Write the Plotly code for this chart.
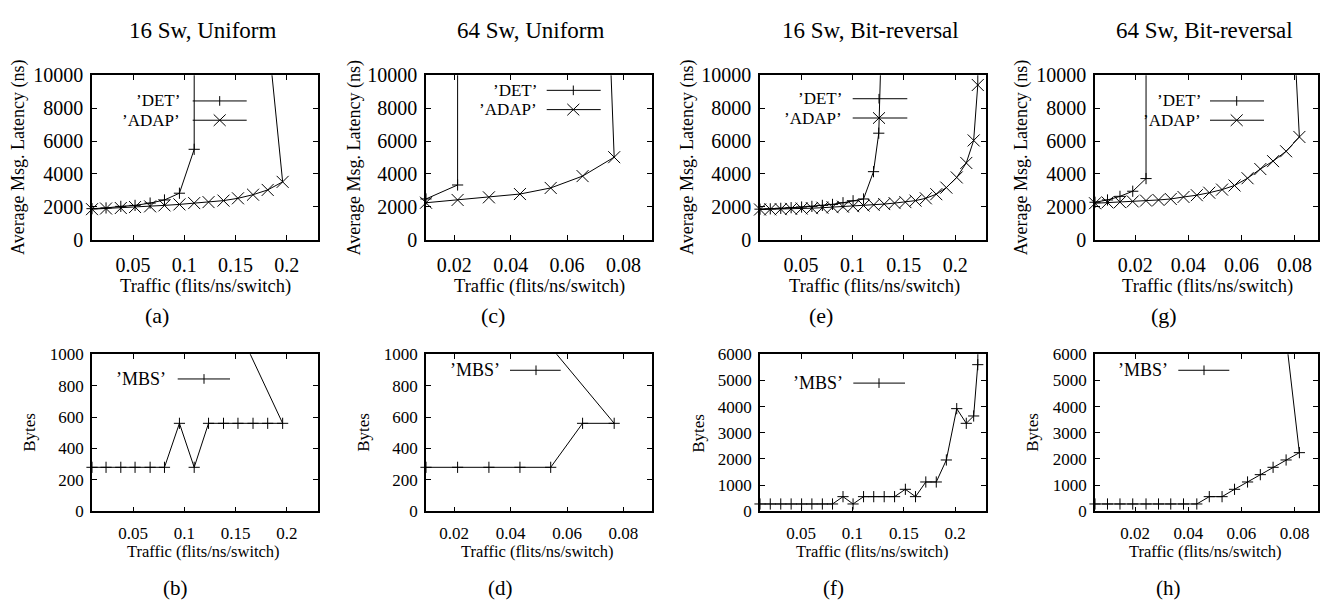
import plotly.graph_objects as go

# ---------------- data ----------------
# (a) 16 Sw, Uniform : latency
a_x = [0.0100, 0.0237, 0.0381, 0.0520, 0.0667, 0.0807, 0.0953, 0.1097, 0.1237, 0.1383, 0.1524, 0.1671, 0.1814, 0.1960]
a_adap = [1860, 1900, 1930, 1990, 2030, 2090, 2150, 2230, 2290, 2380, 2520, 2740, 3030, 3520]
a_det_x = [0.0100, 0.0237, 0.0381, 0.0520, 0.0667, 0.0807, 0.0953, 0.1097]
a_det = [1890, 1934, 2030, 2090, 2230, 2420, 2830, 5500]
a_adap_over = [0.150, 32200]
a_det_over = [0.1099, 80000]
# (b) 16 Sw, Uniform : MBS
b_mbs = [280, 280, 280, 280, 280, 280, 560, 280, 560, 560, 560, 560, 560, 560]
b_mbs_over = [0.150, 1200]

# (c) 64 Sw, Uniform : latency
c_x = [0.0100, 0.0212, 0.0323, 0.0433, 0.0542, 0.0655, 0.0767]
c_adap = [2250, 2420, 2580, 2780, 3150, 3870, 5020]
c_det_x = [0.0100, 0.0212]
c_det = [2480, 3330]
c_adap_over = [0.050, 125900]
c_det_over = [0.0213, 80000]
# (d) 64 Sw, Uniform : MBS
d_mbs = [280, 280, 280, 280, 280, 560, 560]
d_mbs_over = [0.050, 1136]

# (e) 16 Sw, Bit-reversal : latency
e_x = [0.0100, 0.0200, 0.0302, 0.0403, 0.0505, 0.0605, 0.0707, 0.0806, 0.0908, 0.1006, 0.1108, 0.1207,
       0.1309, 0.1410, 0.1515, 0.1614, 0.1714, 0.1816, 0.1914, 0.2015, 0.2108, 0.2180, 0.2220]
e_adap = [1840, 1850, 1860, 1880, 1900, 1920, 1950, 1980, 2010, 2040, 2080, 2120,
          2170, 2230, 2290, 2380, 2520, 2770, 3170, 3790, 4670, 6040, 9410]
e_det_x = [0.0100, 0.0200, 0.0302, 0.0403, 0.0505, 0.0605, 0.0707, 0.0806, 0.0908, 0.1006, 0.1108, 0.1205, 0.1256]
e_det = [1860, 1880, 1910, 1950, 1990, 2030, 2090, 2150, 2250, 2370, 2480, 4140, 6480]
e_adap_over = [0.2226, 30000]
e_det_over = [0.1350, 27200]
# (f) 16 Sw, Bit-reversal : MBS
f_mbs = [280, 280, 280, 280, 280, 280, 280, 280, 560, 280, 560, 560,
         560, 560, 840, 560, 1120, 1120, 1960, 3920, 3360, 3640, 5600]
f_mbs_over = [0.2226, 9000]

# (g) 64 Sw, Bit-reversal : latency
g_x = [0.0049, 0.0096, 0.0143, 0.0191, 0.0241, 0.0288, 0.0334, 0.0382, 0.0432, 0.0479, 0.0527, 0.0574,
       0.0623, 0.0671, 0.0719, 0.0768, 0.0818]
g_adap = [2220, 2270, 2290, 2330, 2380, 2420, 2480, 2600, 2710, 2860, 3050, 3300,
          3740, 4300, 4780, 5380, 6250]
g_det_x = [0.0049, 0.0096, 0.0143, 0.0191, 0.0241]
g_det = [2280, 2420, 2640, 2950, 3720]
g_adap_over = [0.070, 42900]
g_det_over = [0.0242, 60000]
# (h) 64 Sw, Bit-reversal : MBS
h_mbs = [280, 280, 280, 280, 280, 280, 280, 280, 280, 560, 560, 840, 1120, 1400, 1680, 1960, 2240]
h_mbs_over = [0.070, 12570]

titles = ["16 Sw, Uniform", "64 Sw, Uniform", "16 Sw, Bit-reversal", "64 Sw, Bit-reversal"]
letters_top = ["(a)", "(c)", "(e)", "(g)"]
letters_bot = ["(b)", "(d)", "(f)", "(h)"]
xtick_vals_16 = [0.05, 0.1, 0.15, 0.2]
xtick_text_16 = ["0.05", "0.1", "0.15", "0.2"]
xtick_vals_64 = [0.02, 0.04, 0.06, 0.08]
xtick_text_64 = ["0.02", "0.04", "0.06", "0.08"]
lat_ticks = [0, 2000, 4000, 6000, 8000, 10000]
mbs_ticks_small = [0, 200, 400, 600, 800, 1000]
mbs_ticks_big = [0, 1000, 2000, 3000, 4000, 5000, 6000]

# ---------------- layout helpers ----------------
W, H = 1321, 611
FONT = "Liberation Serif, Times New Roman, Times, serif"


def px(x):
    return x / W


def py(y):
    return 1 - y / H


cols = [(92, 317.5), (426, 651.7), (760, 986), (1095, 1318)]
top_y = (66.7, 237.3)
bot_y = (356, 519)
xranges = [[0.01, 0.23], [0.01, 0.09], [0.01, 0.23], [0.0049, 0.0888]]
xticks = [(xtick_vals_16, xtick_text_16), (xtick_vals_64, xtick_text_64),
          (xtick_vals_16, xtick_text_16), (xtick_vals_64, xtick_text_64)]
bot_yrange = [[0, 1000], [0, 1000], [0, 6000], [0, 6000]]
bot_yticks = [mbs_ticks_small, mbs_ticks_small, mbs_ticks_big, mbs_ticks_big]

fig = go.Figure()
layout = dict(width=W, height=H, margin=dict(l=0, r=0, t=0, b=0),
              paper_bgcolor="white", plot_bgcolor="white", showlegend=False,
              font=dict(family=FONT, color="black"))

shapes = []
annotations = []


def axis_common(fs):
    return dict(showline=True, linecolor="black", linewidth=1.6, mirror="ticks",
                ticks="inside", ticklen=5, tickwidth=1, tickcolor="black",
                showgrid=False, zeroline=False, tickfont=dict(family=FONT, size=fs, color="black"))


for i in range(4):
    x0, x1 = cols[i]
    for row in range(2):
        n = i * 2 + row + 1
        xa = "xaxis" if n == 1 else f"xaxis{n}"
        ya = "yaxis" if n == 1 else f"yaxis{n}"
        yd = top_y if row == 0 else bot_y
        fs = 20 if row == 0 else 17
        xd = axis_common(fs)
        xd.update(domain=[px(x0), px(x1)], range=xranges[i], anchor=f"y{'' if n == 1 else n}",
                  tickvals=xticks[i][0], ticktext=xticks[i][1],
                  ticklabelstandoff=6 if row == 0 else 5)
        ydd = axis_common(fs)
        if row == 0:
            ydd.update(range=[0, 10000], tickvals=lat_ticks, ticktext=[str(v) for v in lat_ticks])
        else:
            ydd.update(range=bot_yrange[i], tickvals=bot_yticks[i], ticktext=[str(v) for v in bot_yticks[i]])
        ydd.update(domain=[py(yd[1]), py(yd[0])], anchor=f"x{'' if n == 1 else n}", ticklabelstandoff=3)
        layout[xa] = xd
        layout[ya] = ydd


def add_series(xs, ys, over, symbol, size, n):
    xr = "x" if n == 1 else f"x{n}"
    yr = "y" if n == 1 else f"y{n}"
    fig.add_trace(go.Scatter(x=[xs[-1], over[0]], y=[ys[-1], over[1]], mode="lines",
                             line=dict(color="black", width=1), xaxis=xr, yaxis=yr, hoverinfo="skip"))
    fig.add_trace(go.Scatter(x=xs, y=ys, mode="lines+markers", cliponaxis=False,
                             line=dict(color="black", width=1),
                             marker=dict(symbol=symbol, size=size, color="black",
                                         line=dict(color="black", width=1)),
                             xaxis=xr, yaxis=yr))


PLUS, PSZ = "cross-thin", 8
CROSS, CSZ = "x-thin", 12

# top row: latency
add_series(a_x, a_adap, a_adap_over, CROSS, CSZ, 1)
add_series(a_det_x, a_det, a_det_over, PLUS, PSZ, 1)
add_series(c_x, c_adap, c_adap_over, CROSS, CSZ, 3)
add_series(c_det_x, c_det, c_det_over, PLUS, PSZ, 3)
add_series(e_x, e_adap, e_adap_over, CROSS, CSZ, 5)
add_series(e_det_x, e_det, e_det_over, PLUS, PSZ, 5)
add_series(g_x, g_adap, g_adap_over, CROSS, CSZ, 7)
add_series(g_det_x, g_det, g_det_over, PLUS, PSZ, 7)
# bottom row: MBS
add_series(a_x, b_mbs, b_mbs_over, PLUS, PSZ, 2)
add_series(c_x, d_mbs, d_mbs_over, PLUS, PSZ, 4)
add_series(e_x, f_mbs, f_mbs_over, PLUS, PSZ, 6)
add_series(g_x, h_mbs, h_mbs_over, PLUS, PSZ, 8)


def ann(text, x, y, size, xanchor="center", angle=0):
    annotations.append(dict(text=text, x=px(x), y=py(y), xref="paper", yref="paper",
                            xanchor=xanchor, yanchor="middle", showarrow=False, textangle=angle,
                            font=dict(family=FONT, size=size, color="black")))


def seg(x0, y0, x1, y1):
    shapes.append(dict(type="line", xref="paper", yref="paper", x0=px(x0), y0=py(y0), x1=px(x1), y1=py(y1),
                       line=dict(color="black", width=1)))


def legend_entry(text, right, y, lx0, lx1, mx, sym, size):
    ann(text, right, y, size, xanchor="right")
    seg(lx0, y, lx1, y)
    if sym == "plus":
        seg(mx, y - 5, mx, y + 5)
    else:
        seg(mx - 6, y - 6, mx + 6, y + 6)
        seg(mx - 6, y + 6, mx + 6, y - 6)


# titles / labels
title_cx = [202, 530.5, 870.8, 1204.5]
letter_top_cx = [157, 493, 821, 1163.5]
letter_bot_cx = [175, 500, 833.5, 1168]
ytitle_top_x = [18.5, 355, 687.5, 1021.7]
ytitle_bot_x = [30, 364, 699, 1033]
for i in range(4):
    x0, x1 = cols[i]
    cx = (x0 + x1) / 2
    ann(titles[i], title_cx[i], 20, 23)
    ann("Traffic (flits/ns/switch)", cx + 1, 286, 18.5)
    ann("Traffic (flits/ns/switch)", cx - 1, 561, 16.5)
    ann("Average Msg. Latency (ns)", ytitle_top_x[i], (top_y[0] + top_y[1]) / 2, 18, angle=-90)
    ann("Bytes", ytitle_bot_x[i], (bot_y[0] + bot_y[1]) / 2, 17, angle=-90)
    ann(letters_top[i], letter_top_cx[i], 316, 22)
    ann(letters_bot[i], letter_bot_cx[i], 599, 21)

# legends
leg_top = [(181.7, 93.3, 113.3, 192.7, 246.7, 219.7),
           (539.3, 82.3, 102.3, 546.7, 600.7, 573.3),
           (844.3, 91.0, 111.0, 852.7, 907.3, 879.0),
           (1203.3, 93.3, 113.3, 1210.0, 1264.0, 1236.7)]
for r, y1, y2, l0, l1, m in leg_top:
    legend_entry("\u2019DET\u2019", r, y1, l0, l1, m, "plus", 17)
    legend_entry("\u2019ADAP\u2019", r, y2, l0, l1, m, "cross", 17)
leg_bot = [(168.3, 381.7, 177.7, 230.0, 204.0),
           (501.7, 372.7, 510.0, 560.7, 536.0),
           (845.0, 386.0, 853.3, 905.0, 879.0),
           (1170.0, 372.7, 1178.3, 1229.3, 1204.0)]
for r, y, l0, l1, m in leg_bot:
    legend_entry("\u2019MBS\u2019", r, y, l0, l1, m, "plus", 18)

layout["shapes"] = shapes
layout["annotations"] = annotations
fig.update_layout(**layout)
fig.write_html("out.html",
               post_script="document.body.style.margin='0';document.body.style.overflow='hidden';")
